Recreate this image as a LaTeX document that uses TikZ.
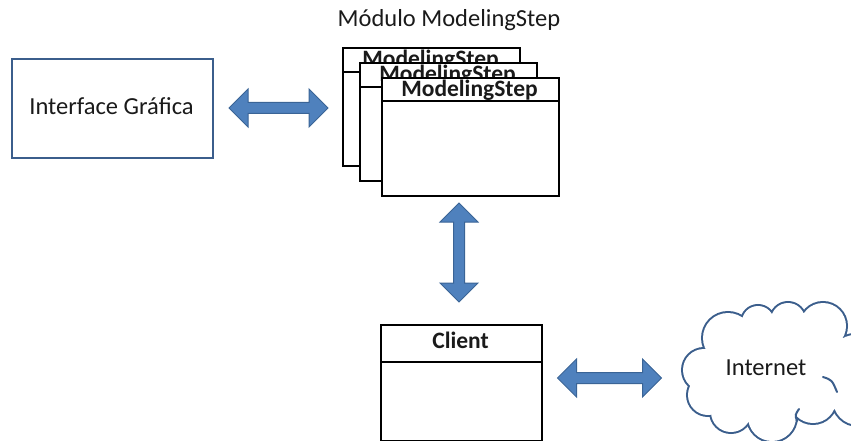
\documentclass[tikz,border=0pt]{standalone}
\usepackage{fontspec}
\setmainfont{Carlito}
\usetikzlibrary{shapes.arrows}

\definecolor{edgeblue}{HTML}{3B5E8C}
\definecolor{arrowfill}{HTML}{4F81BD}
\definecolor{arrowline}{HTML}{3A6496}
\definecolor{inktext}{HTML}{1A1A1A}

\tikzset{
  every node/.style={font=\fontsize{24.5}{29}\selectfont, text=inktext},
  umlbox/.style={draw=black, line width=2pt, fill=white, rectangle,
    inner sep=0pt, minimum width=177pt, minimum height=118pt, anchor=north west},
  umlclient/.style={umlbox, minimum width=161pt, minimum height=116pt},
  headtext/.style={anchor=base, font=\fontsize{23.5}{28}\selectfont\bfseries, inner sep=0pt},
  headline/.style={draw=black, line width=2pt},
  guibox/.style={draw=edgeblue, line width=2pt, fill=white, rectangle,
    inner sep=0pt, minimum width=201pt, minimum height=99pt, anchor=north west},
  fatarrow/.style={double arrow, fill=arrowfill, draw=arrowline, line width=1pt,
    inner xsep=0pt, inner ysep=5pt, double arrow head extend=13.5pt,
    double arrow tip angle=90},
  puffline/.style={draw=edgeblue, line width=4pt},
  hookline/.style={draw=edgeblue, line width=2pt, line cap=round}
}

% circles that make up the cloud outline
\newcommand{\cloudpuffs}{%
  (704,370) circle (21) (728,338) circle (25) (758,322) circle (16)
  (788,320) circle (17) (823,326) circle (23) (855,360) circle (25)
  (858,400) circle (25) (813,400) circle (23) (772,417) circle (24)
  (731,412) circle (20) (708,395) circle (20)}
\newcommand{\cloudcore}{%
  (704,370) -- (728,338) -- (758,322) -- (788,320) -- (823,326) -- (855,360)
  -- (858,400) -- (813,400) -- (772,417) -- (731,412) -- (708,395) -- cycle}

\begin{document}
\begin{tikzpicture}[x=1pt, y=-1pt]
  \useasboundingbox (0,0) rectangle (851,441);
  \clip (0,0) rectangle (851,441);

  % title
  \node[anchor=base, inner sep=0pt] (title) at (449,27) {Módulo ModelingStep};

  % graphical interface
  \node[guibox] (gui) at (11,58) {};
  \node[anchor=base, inner sep=0pt] (guitext) at (111.5,115) {Interface Gráfica};

  % stacked ModelingStep modules (back to front)
  \node[umlbox] (msA) at (342,47) {};
  \node[headtext] (msAtext) at (430.5,67) {ModelingStep};
  \draw[headline] ([yshift=-25pt]msA.north west) -- ([yshift=-25pt]msA.north east);

  \node[umlbox] (msB) at (359,62) {};
  \node[headtext] (msBtext) at (447.5,82) {ModelingStep};
  \draw[headline] ([yshift=-25pt]msB.north west) -- ([yshift=-25pt]msB.north east);

  \node[umlbox] (msC) at (381,77) {};
  \node[headtext] (msCtext) at (469.5,97) {ModelingStep};
  \draw[headline] ([yshift=-24pt]msC.north west) -- ([yshift=-24pt]msC.north east);

  % client
  \node[umlclient] (client) at (380,324) {};
  \node[headtext] (clienttext) at (460.5,348) {Client};
  \draw[headline] ([yshift=-38pt]client.north west) -- ([yshift=-38pt]client.north east);

  % internet cloud: thick puff outlines, then a white fill over their union
  \draw[puffline] \cloudpuffs;
  \fill[white] \cloudpuffs;
  \fill[white] \cloudcore;
  \draw[hookline] (823,377) .. controls (832,380) .. (837,392);
  \draw[hookline] (797,421) .. controls (795,415) .. (799,409);
  \coordinate (net) at (772,372);
  \node[anchor=base, inner sep=0pt] (nettext) at (766,375) {Internet};

  % two-way links
  \node[fatarrow, minimum height=99pt] (guilink) at (278.5,108) {};
  \node[fatarrow, minimum height=99pt, rotate=90] (clientlink) at (459,252.5) {};
  \node[fatarrow, minimum height=104pt] (netlink) at (609.5,378) {};
\end{tikzpicture}
\end{document}
